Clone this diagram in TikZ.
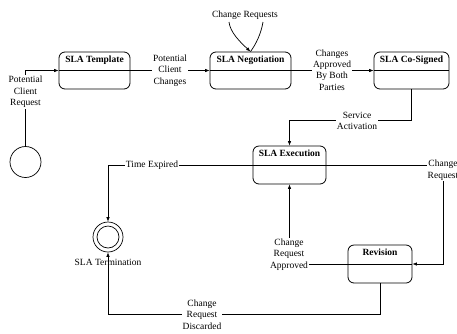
\documentclass[tikz,border=0pt]{standalone}
\usepackage{fontspec}
\setmainfont{Liberation Serif}
\usetikzlibrary{arrows.meta,calc}
\begin{document}
\begin{tikzpicture}[x=1pt,y=-1pt,
  every node/.style={font=\fontsize{9.5}{11.3}\selectfont, inner sep=1pt},
  sbox/.style={draw, line width=0.8pt, rounded corners=6pt, minimum height=37pt,
    path picture={\draw[line width=0.8pt] (path picture bounding box.west) -- (path picture bounding box.east);}},
  stitle/.style={anchor=north, yshift=-3pt, font=\fontsize{9.5}{11.3}\selectfont\bfseries},
  conn/.style={line width=0.7pt},
  arr/.style={conn, -{Latex[length=4.5pt,width=3.5pt]}},
  lbl/.style={fill=white, align=center, inner sep=1pt},
]
\useasboundingbox (0,0) rectangle (457,333);

% states
\node[sbox, minimum width=71pt, label={[stitle]north:SLA Template}] (tmpl) at (94.5,70.5) {};
\node[sbox, minimum width=81pt, label={[stitle]north:SLA Negotiation}] (neg) at (250.5,70.5) {};
\node[sbox, minimum width=75pt, label={[stitle]north:SLA Co-Signed}] (cos) at (411.5,70.5) {};
\node[sbox, minimum width=73pt, minimum height=38pt, label={[stitle]north:SLA Execution}] (exe) at (289.5,165) {};
\node[sbox, minimum width=64pt, minimum height=38pt, label={[stitle]north:Revision}] (rev) at (380,264) {};

% start and termination
\node[draw, circle, line width=0.7pt, minimum size=31pt, inner sep=0pt] (start) at (25.5,162) {};
\node[draw, circle, line width=0.7pt, minimum size=30pt, inner sep=0pt] (term) at (108,237) {};
\node[draw, circle, line width=0.7pt, minimum size=22pt, inner sep=0pt] (termin) at (term.center) {};
\node (termlbl) at (108,262) {SLA Termination};

% connectors
\draw[arr] (start.north) |- (tmpl.west);
\node[lbl] (l1) at (25.5,92) {Potential\\Client\\Request};

\draw[arr] (tmpl.east) -- (neg.west);
\node[lbl] (l2) at (170,70.5) {Potential\\Client\\Changes};

\draw[arr] (neg.east) -- (cos.west);
\node[lbl] (l3) at (332,70) {Changes\\Approved\\By Both\\Parties};

\node (creq) at (245,15) {Change Requests};
\coordinate (cl) at (229,22);
\coordinate (cr) at (263,22);
\draw[arr] (cl) .. controls (230,32) and (240,42) .. (neg.north);
\draw[conn] (cr) .. controls (261,34) and (256,44) .. (neg.north);

\coordinate (sa) at (cos.south |- 0,120);
\draw[arr] (cos.south) -- (sa) -| (exe.north);
\node[lbl] (l4) at (357,121) {Service\\Activation};

\draw[arr] (exe.west) -| (term.north);
\node[lbl] (l5) at (152,165) {Time Expired};

\coordinate (crc) at (443,165);
\draw[arr] (exe.east) -- (crc) |- (rev.east);
\node[lbl, anchor=north] (l6) at (443,159) {Change\\Request};

\draw[arr] (rev.west) -| (exe.south);
\node[lbl] (l7) at (289,254.5) {Change\\Request\\Approved};

\coordinate (dc) at (rev.south |- 0,314);
\draw[arr] (rev.south) -- (dc) -| (term.south);
\node[lbl] (l8) at (202,314.5) {Change\\Request\\Discarded};
\end{tikzpicture}
\end{document}
